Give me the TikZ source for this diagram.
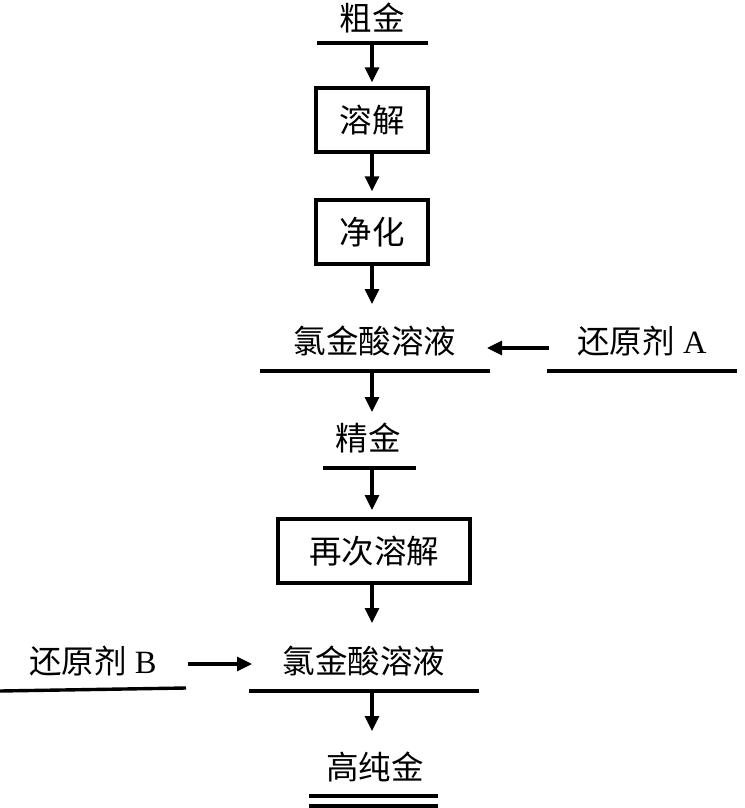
\documentclass[tikz,border=0pt]{standalone}
\usepackage{fontspec}
\setmainfont{Liberation Serif}
\newfontfamily\cjk{Noto Sans CJK SC}
\usetikzlibrary{arrows.meta}
\begin{document}
\begin{tikzpicture}[x=1pt,y=-1pt,
  txt/.style={inner sep=0pt, font=\fontsize{32.5}{38}\selectfont\cjk},
  stepbox/.style={draw, line width=3.4pt, inner sep=0pt, font=\fontsize{32.5}{38}\selectfont\cjk},
  bar/.style={line width=3.4pt},
  flow/.style={line width=3.2pt, -{Triangle[length=15pt,width=14pt]}}]
\useasboundingbox (0,0) rectangle (744,808);
% nodes
\node[txt] (cu) at (372,18) {粗金};
\node[stepbox, minimum width=112pt, minimum height=64pt] (b1) at (372,120) {溶解};
\node[stepbox, minimum width=112pt, minimum height=64pt] (b2) at (372,232) {净化};
\node[txt] (s1) at (375,341) {氯金酸溶液};
\node[txt] (ra) at (642,341) {还原剂\rmfamily\ A};
\node[txt] (jj) at (368,438) {精金};
\node[stepbox, minimum width=192pt, minimum height=64pt] (b3) at (374,551) {再次溶解};
\node[txt] (rb) at (93,661) {还原剂\rmfamily\ B};
\node[txt] (s2) at (364,661) {氯金酸溶液};
\node[txt] (gc) at (375,767) {高纯金};
% bar coordinates
\coordinate (c1a) at (317,43);  \coordinate (c1b) at (428,43);  \coordinate (c1m) at (372,43);
\coordinate (s1a) at (260,371); \coordinate (s1b) at (490,371); \coordinate (s1m) at (372,371);
\coordinate (raa) at (547,371); \coordinate (rab) at (737,371);
\coordinate (jja) at (323,468); \coordinate (jjb) at (416,468); \coordinate (jjm) at (372,468);
\coordinate (rba) at (0,691);   \coordinate (rbb) at (186,688);
\coordinate (s2a) at (249,691); \coordinate (s2b) at (479,691); \coordinate (s2m) at (372,691);
\coordinate (g1a) at (309,796); \coordinate (g1b) at (438,796);
\coordinate (g2a) at (309,806); \coordinate (g2b) at (438,806);
% arrow ends
\coordinate (t3) at (372,304);
\coordinate (t4) at (372,412);
\coordinate (t5) at (372,510);
\coordinate (f6) at (372,583);
\coordinate (t6) at (372,623);
\coordinate (t7) at (372,731);
\coordinate (as) at (549,348); \coordinate (ae) at (487,348);
\coordinate (bs) at (188,664); \coordinate (be) at (252,664);
% bars
\draw[bar] (c1a) -- (c1b);
\draw[bar] (s1a) -- (s1b);
\draw[bar] (raa) -- (rab);
\draw[bar] (jja) -- (jjb);
\draw[bar] (rba) -- (rbb);
\draw[bar] (s2a) -- (s2b);
\draw[bar] (g1a) -- (g1b);
\draw[bar] (g2a) -- (g2b);
% flows
\draw[flow, shorten >=4pt] (c1m) -- (b1.north);
\draw[flow, shorten >=7pt] (b1.south) -- (b2.north);
\draw[flow] (b2.south) -- (t3);
\draw[flow] (s1m) -- (t4);
\draw[flow] (jjm) -- (t5);
\draw[flow] (f6) -- (t6);
\draw[flow] (s2m) -- (t7);
\draw[flow] (as) -- (ae);
\draw[flow] (bs) -- (be);
\end{tikzpicture}
\end{document}
